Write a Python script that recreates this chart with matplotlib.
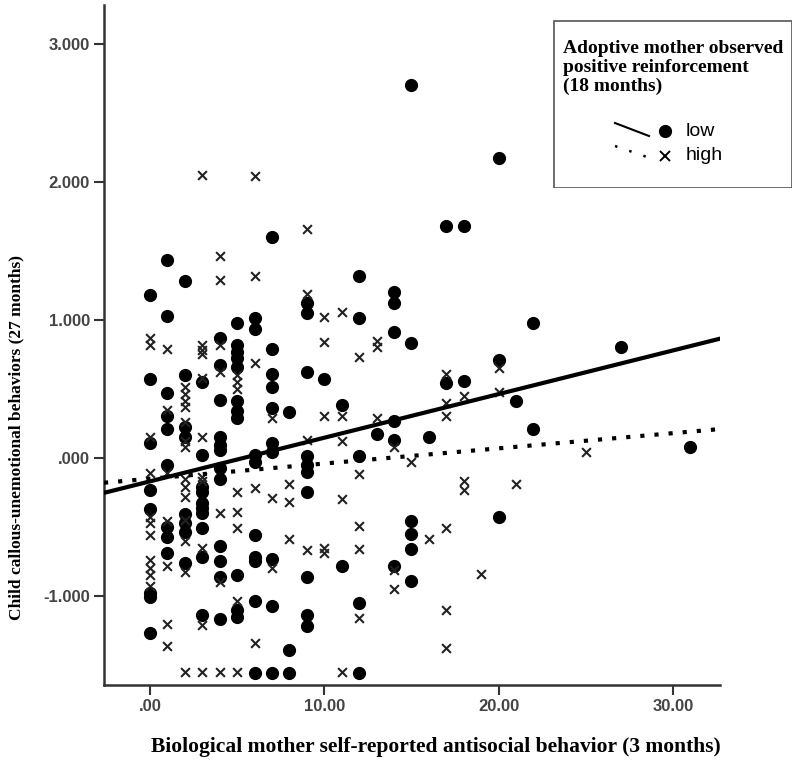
import matplotlib
matplotlib.use('Agg')
import matplotlib.pyplot as plt
import numpy as np
from matplotlib.lines import Line2D
from matplotlib.patches import Rectangle

# low positive reinforcement (circles): x value -> list of y values
low_x = [0]*8 + [1]*9 + [2]*8 + [3]*10 + [4]*12 + [5]*11 + [6]*9 + [7]*10 + [8]*3 \
    + [9]*10 + [10] + [11]*2 + [12]*5 + [13] + [14]*6 + [15]*6 + [16] + [17]*2 + [18]*2 \
    + [20]*3 + [21] + [22]*2 + [27] + [31]
low_y = [1.18, 0.57, 0.11, -0.23, -0.37, -0.98, -1.01, -1.27,
         1.43, 1.03, 0.47, 0.30, 0.21, -0.05, -0.50, -0.57, -0.69,
         1.28, 0.60, 0.22, 0.15, -0.41, -0.47, -0.54, -0.76,
         0.55, 0.02, -0.21, -0.25, -0.33, -0.36, -0.40, -0.51, -0.72, -1.14,
         0.87, 0.67, 0.42, 0.15, 0.09, 0.06, -0.07, -0.15, -0.64, -0.75, -0.86, -1.17,
         0.98, 0.82, 0.77, 0.72, 0.66, 0.41, 0.34, 0.29, -0.85, -1.10, -1.15,
         1.01, 0.93, 0.02, -0.03, -0.56, -0.72, -0.75, -1.04, -1.56,
         1.60, 0.79, 0.61, 0.51, 0.36, 0.11, 0.04, -0.73, -1.07, -1.56,
         0.33, -1.39, -1.56,
         1.12, 1.05, 0.62, 0.01, -0.05, -0.10, -0.25, -0.86, -1.14, -1.22,
         0.57,
         0.38, -0.78,
         1.32, 1.01, 0.01, -1.05, -1.56,
         0.17,
         1.20, 1.12, 0.91, 0.27, 0.13, -0.78,
         2.70, 0.83, -0.46, -0.55, -0.66, -0.89,
         0.15,
         1.68, 0.54,
         1.68, 0.56,
         2.17, 0.71, -0.43,
         0.41,
         0.98, 0.21,
         0.80,
         0.08]

# high positive reinforcement (crosses)
high_x = [0]*11 + [1]*7 + [2]*14 + [3]*11 + [4]*7 + [5]*8 + [6]*5 + [7]*3 + [8]*3 \
    + [9]*4 + [10]*5 + [11]*5 + [12]*5 + [13]*3 + [14]*3 + [15] + [16] + [17]*6 \
    + [18]*3 + [19] + [20]*2 + [21] + [25]
high_y = [0.87, 0.82, 0.15, -0.11, -0.43, -0.47, -0.56, -0.74, -0.80, -0.85, -0.93,
          0.79, 0.35, -0.11, -0.46, -0.78, -1.20, -1.36,
          0.51, 0.46, 0.41, 0.37, 0.26, 0.12, 0.08, -0.15, -0.21, -0.28, -0.45, -0.60, -0.83, -1.55,
          2.05, 0.82, 0.78, 0.75, 0.58, 0.15, -0.14, -0.17, -0.65, -1.21, -1.55,
          1.46, 1.29, 0.82, 0.62, -0.40, -0.90, -1.55,
          0.60, 0.55, 0.50, -0.25, -0.39, -0.51, -1.04, -1.55,
          2.04, 1.32, 0.69, -0.22, -1.34,
          0.29, -0.29, -0.80,
          -0.19, -0.32, -0.59,
          1.66, 1.19, 0.13, -0.67,
          1.02, 0.84, 0.30, -0.65, -0.69,
          1.06, 0.30, 0.12, -0.30, -1.55,
          0.73, -0.12, -0.49, -0.66, -1.16,
          0.85, 0.80, 0.29,
          0.08, -0.81, -0.95,
          -0.03,
          -0.59,
          0.61, 0.40, 0.30, -0.51, -1.10, -1.38,
          0.45, -0.17, -0.23,
          -0.84,
          0.65, 0.48,
          -0.19,
          0.04]

# fitted lines (intercept, slope)
low_fit = (-0.170, 0.0316)
high_fit = (-0.151, 0.011)

x_ticks = [0, 10, 20, 30]
x_labels = ['.00', '10.00', '20.00', '30.00']
y_ticks = [-1, 0, 1, 2, 3]
y_labels = ['-1.000', '.000', '1.000', '2.000', '3.000']

xlim = (-2.64, 32.7)
ylim = (-1.645, 3.28)

fig = plt.figure(figsize=(8, 7.67), dpi=100)
ax = fig.add_axes([104/800, 1 - 685/767, 616/800, 680/767])

ax.scatter(low_x, low_y, s=72, marker='o', color='black', zorder=3)
ax.scatter(high_x, high_y, s=40, marker='x', color='#222222', linewidths=1.5, zorder=3)

xs = np.array(xlim)
ax.plot(xs, low_fit[0] + low_fit[1] * xs, color='black', lw=3, zorder=4)
ax.plot(xs, high_fit[0] + high_fit[1] * xs, color='black', lw=3,
        linestyle=(0, (1, 2.4)), zorder=4)

ax.set_xlim(xlim)
ax.set_ylim(ylim)
ax.set_xticks(x_ticks)
ax.set_xticklabels(x_labels)
ax.set_yticks(y_ticks)
ax.set_yticklabels(y_labels)

for s in ['top', 'right']:
    ax.spines[s].set_visible(False)
for s in ['left', 'bottom']:
    ax.spines[s].set_linewidth(1.8)
    ax.spines[s].set_color('#333333')
ax.tick_params(length=7, width=1.5, color='#333333', labelcolor='#444444',
               labelsize=12, pad=3)
for lab in ax.get_xticklabels() + ax.get_yticklabels():
    lab.set_fontweight('bold')
    lab.set_family('Liberation Sans')

serif = 'Liberation Serif'
fig.text(436/800, 1 - 747/767, 'Biological mother self-reported antisocial behavior (3 months)',
         ha='center', va='center', fontsize=15.5, fontweight='bold', family=serif)
fig.text(16/800, 1 - 437/767, 'Child callous-unemotional behaviors (27 months)',
         ha='center', va='center', rotation=90, fontsize=12.5, fontweight='bold', family=serif)

# legend box
lax = fig.add_axes([553/800, 1 - 188/767, 239/800, 168/767])
lax.set_xlim(0, 239)
lax.set_ylim(168, 0)
lax.axis('off')
lax.add_patch(Rectangle((0.5, 0.5), 238, 167, fill=False, edgecolor='#555555', lw=1.2))
lax.text(10, 20, 'Adoptive mother observed\npositive reinforcement\n(18 months)',
         ha='left', va='top', fontsize=14, fontweight='bold', family=serif,
         linespacing=1.15)
lax.add_line(Line2D([62, 96], [103, 116], color='black', lw=1.5))
lax.plot([112], [111], marker='o', color='black', markersize=8.5)
lax.text(133, 111, 'low', ha='left', va='center', fontsize=14, family='Liberation Sans')
lax.add_line(Line2D([62, 94], [126, 137], color='black', lw=1.8, linestyle=(0, (1, 5))))
lax.plot([112], [136], marker='x', color='black', markersize=7, mew=1.4)
lax.text(133, 136, 'high', ha='left', va='center', fontsize=14, family='Liberation Sans')

fig.savefig('out.png', dpi=100)
